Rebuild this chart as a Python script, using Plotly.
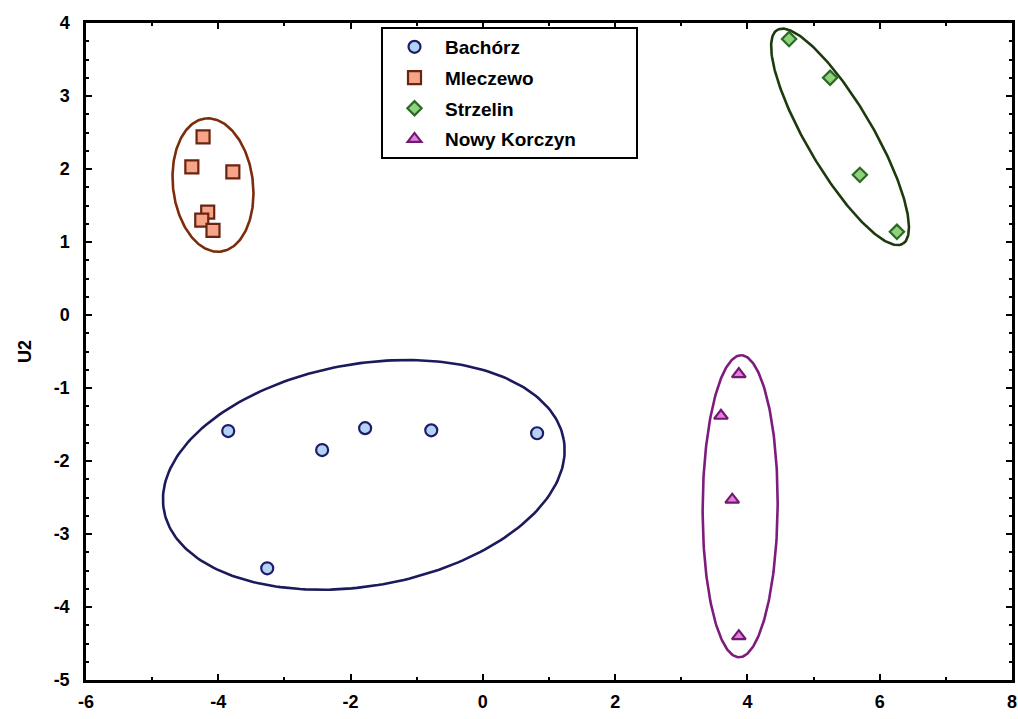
import numpy as np
import plotly.graph_objects as go

# ---------------- data ----------------
groups = ["Bachórz", "Mleczewo", "Strzelin", "Nowy Korczyn"]

bachorz_x = [-3.85, -2.43, -1.78, -0.78, 0.82, -3.26]
bachorz_y = [-1.59, -1.85, -1.55, -1.58, -1.62, -3.47]

mleczewo_x = [-4.23, -4.40, -3.78, -4.16, -4.25, -4.08]
mleczewo_y = [2.44, 2.03, 1.96, 1.41, 1.30, 1.16]

strzelin_x = [4.63, 5.25, 5.70, 6.26]
strzelin_y = [3.78, 3.25, 1.92, 1.14]

korczyn_x = [3.87, 3.60, 3.77, 3.87]
korczyn_y = [-0.81, -1.38, -2.53, -4.40]

# ellipse centres (data units), semi-axes (screen px), screen angle (deg)
ell_cx = [-1.80, -4.08, 5.40, 3.89]
ell_cy = [-2.19, 1.78, 2.44, -2.62]
ell_a_px = [203, 67, 124, 151]
ell_b_px = [111, 40, 33, 37.5]
ell_angle = [10, 96.6, -59.6, 89.6]

x_range = [-6, 8]
y_range = [-5, 4]
x_tickvals = [-6, -4, -2, 0, 2, 4, 6, 8]
x_ticktext = ["-6", "-4", "-2", "0", "2", "4", "6", "8"]
y_tickvals = [-5, -4, -3, -2, -1, 0, 1, 2, 3, 4]
y_ticktext = ["-5", "-4", "-3", "-2", "-1", "0", "1", "2", "3", "4"]

# ---------------- layout constants ----------------
W, H = 1018, 719
ML, MR, MT, MB = 86, 6, 23, 39
px_per_x = (W - ML - MR) / (x_range[1] - x_range[0])
px_per_y = (H - MT - MB) / (y_range[1] - y_range[0])

FONT = "Liberation Sans"

marker_styles = [
    dict(symbol="circle", size=12, color="#b4d2f4", line=dict(color="#1c1c6a", width=2.2)),
    dict(symbol="square", size=13, color="#f6a588", line=dict(color="#6a2410", width=2.2)),
    dict(symbol="diamond", size=11, color="#8fd27e", line=dict(color="#2c6a24", width=2.2)),
    dict(symbol="triangle-up", size=12, color="#e47ee4", line=dict(color="#701a70", width=2.2)),
]
ellipse_colors = ["#1a1a5c", "#7a2c0c", "#1c3a0c", "#7e1c7e"]

xs = [bachorz_x, mleczewo_x, strzelin_x, korczyn_x]
ys = [bachorz_y, mleczewo_y, strzelin_y, korczyn_y]

fig = go.Figure()

# ellipses
t = np.linspace(0, 2 * np.pi, 241)
for i in range(4):
    th = np.deg2rad(ell_angle[i])
    ex = ell_a_px[i] * np.cos(t) * np.cos(th) - ell_b_px[i] * np.sin(t) * np.sin(th)
    ey = ell_a_px[i] * np.cos(t) * np.sin(th) + ell_b_px[i] * np.sin(t) * np.cos(th)
    fig.add_trace(go.Scatter(
        x=ell_cx[i] + ex / px_per_x,
        y=ell_cy[i] + ey / px_per_y,
        mode="lines",
        line=dict(color=ellipse_colors[i], width=2.6),
        showlegend=False,
        hoverinfo="skip",
    ))

# points
for i in range(4):
    fig.add_trace(go.Scatter(
        x=xs[i], y=ys[i], mode="markers", name=groups[i],
        marker=marker_styles[i], legendgroup=groups[i],
    ))

axis_common = dict(
    showgrid=False, zeroline=False, automargin=False,
    showline=True, linecolor="black", linewidth=2.5, mirror="allticks",
    ticks="inside", ticklen=6, tickwidth=2, tickcolor="black",
    tickfont=dict(family=FONT, size=18, color="black", weight="bold"),
)

fig.update_xaxes(
    range=x_range, tickvals=x_tickvals, ticktext=x_ticktext,
    minor=dict(dtick=1, tick0=-6, ticks="inside", ticklen=3, tickwidth=1.5, tickcolor="black"),
    ticklabelstandoff=4,
    **axis_common,
)
fig.update_yaxes(
    range=y_range, tickvals=y_tickvals, ticktext=y_ticktext,
    minor=dict(dtick=0.25, tick0=-5, ticks="inside", ticklen=3, tickwidth=1.5, tickcolor="black"),
    ticklabelstandoff=10,
    title=dict(text="U2", font=dict(family=FONT, size=18, color="black", weight="bold"), standoff=18),
    **axis_common,
)

# legend frame
pw = W - ML - MR
ph = H - MT - MB
fig.add_shape(
    type="rect", xref="paper", yref="paper",
    x0=(382 - ML) / pw, x1=(637 - ML) / pw,
    y0=1 - (158 - MT) / ph, y1=1 - (28 - MT) / ph,
    line=dict(color="black", width=2), fillcolor="white", layer="below",
)

fig.update_layout(
    width=W, height=H,
    margin=dict(l=ML, r=MR, t=MT, b=MB),
    paper_bgcolor="white", plot_bgcolor="white",
    font=dict(family=FONT, color="black"),
    legend=dict(
        x=(384 - ML) / pw, y=1 - (28 - MT) / ph, xanchor="left", yanchor="top",
        bgcolor="rgba(0,0,0,0)", borderwidth=0, itemwidth=51,
        font=dict(family=FONT, size=19, color="black", weight="bold"),
        traceorder="grouped", tracegroupgap=3,
    ),
)

fig.write_html(
    "out.html",
    config={"displayModeBar": False},
    post_script="document.body.style.margin='0';document.body.style.overflow='hidden';",
)
